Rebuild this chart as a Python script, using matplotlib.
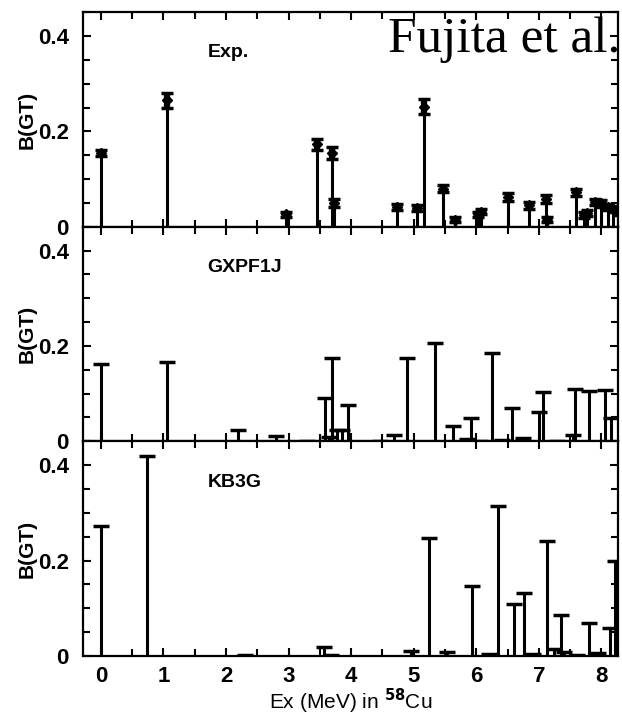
import matplotlib

matplotlib.use("Agg")
import matplotlib.pyplot as plt
from matplotlib.ticker import MultipleLocator

NARROW = ["Liberation Sans Narrow", "Liberation Sans", "DejaVu Sans"]
SERIF = ["Liberation Serif", "DejaVu Serif"]

# experimental B(GT) (Fujita et al.), with error bars
exp_ex = [0.0, 1.05, 2.96, 3.46, 3.70, 3.72, 4.73, 5.06, 5.17, 5.47, 5.66,
          6.03, 6.07, 6.50, 6.85, 7.11, 7.13, 7.59, 7.72, 7.77, 7.90, 8.00,
          8.10, 8.18, 8.26]
exp_bgt = [0.155, 0.265, 0.026, 0.173, 0.155, 0.050, 0.041, 0.040, 0.252,
           0.080, 0.015, 0.026, 0.032, 0.062, 0.045, 0.058, 0.015, 0.072,
           0.024, 0.029, 0.052, 0.049, 0.042, 0.038, 0.030]
exp_err = [0.006, 0.016, 0.006, 0.012, 0.012, 0.008, 0.006, 0.006, 0.016,
           0.008, 0.005, 0.006, 0.006, 0.008, 0.007, 0.008, 0.005, 0.008,
           0.006, 0.006, 0.007, 0.007, 0.006, 0.006, 0.006]

# GXPF1J shell-model
gx_ex = [0.0, 1.05, 2.19, 2.80, 3.30, 3.58, 3.64, 3.70, 3.77, 3.85, 3.95,
         4.46, 4.68, 4.90, 5.34, 5.63, 5.85, 5.92, 6.06, 6.25, 6.41, 6.57,
         6.75, 7.00, 7.07, 7.29, 7.55, 7.58, 7.81, 8.05, 8.16]
gx_bgt = [0.163, 0.167, 0.023, 0.011, 0.001, 0.091, 0.009, 0.175, 0.023,
          0.023, 0.077, 0.001, 0.013, 0.174, 0.207, 0.032, 0.004, 0.048,
          0.001, 0.185, 0.002, 0.069, 0.007, 0.062, 0.104, 0.001, 0.013,
          0.109, 0.105, 0.107, 0.049]

# KB3G shell-model
kb_ex = [0.0, 0.74, 2.30, 3.56, 3.68, 4.95, 5.25, 5.53, 5.93, 6.20, 6.35,
         6.61, 6.77, 6.91, 7.13, 7.24, 7.36, 7.40, 7.61, 7.80, 7.95, 8.13,
         8.21]
kb_bgt = [0.272, 0.420, 0.001, 0.019, 0.001, 0.011, 0.247, 0.008, 0.146,
          0.004, 0.314, 0.109, 0.131, 0.003, 0.242, 0.014, 0.086, 0.008,
          0.001, 0.068, 0.006, 0.058, 0.199]

panel_names = ["Exp.", "GXPF1J", "KB3G"]
x_ticks = [0, 1, 2, 3, 4, 5, 6, 7, 8]
y_ticks = [0, 0.2, 0.4]
y_labels = ["0", "0.2", "0.4"]

fig = plt.figure(figsize=(6.22, 7.18), dpi=100)
gs = fig.add_gridspec(3, 1, left=0.133, right=0.994, top=0.983,
                      bottom=0.0865, hspace=0)
axes = [fig.add_subplot(gs[i]) for i in range(3)]

for ax, name in zip(axes, panel_names):
    ax.set_xlim(-0.29, 8.27)
    ax.set_ylim(0, 0.45)
    ax.xaxis.set_major_locator(MultipleLocator(1))
    ax.xaxis.set_minor_locator(MultipleLocator(0.5))
    ax.set_yticks(y_ticks)
    ax.set_yticklabels(y_labels)
    ax.yaxis.set_minor_locator(MultipleLocator(0.05))
    ax.tick_params(which="both", direction="in", top=True, right=True,
                   width=1.5)
    ax.tick_params(which="major", length=6)
    ax.tick_params(which="minor", length=5)
    for s in ax.spines.values():
        s.set_linewidth(1.6)
    for lab in ax.get_yticklabels():
        lab.set_family(NARROW)
        lab.set_fontweight("bold")
        lab.set_fontsize(16)
    ax.tick_params(axis="y", pad=10)
    ax.set_ylabel("B(GT)", family=NARROW, fontweight="bold", fontsize=15,
                  labelpad=1)
    ax.text(0.233, 0.81, name, transform=ax.transAxes, family=NARROW,
            fontweight="bold", fontsize=14, ha="left", va="center")
    if ax is not axes[-1]:
        ax.tick_params(axis="x", labelbottom=False)

# experiment: stems with thick error bars
ax = axes[0]
ax.vlines(exp_ex, 0, exp_bgt, color="black", lw=2.2)
ax.errorbar(exp_ex, exp_bgt, yerr=exp_err, fmt="D", ms=5, color="black",
            elinewidth=4.5, capsize=4, capthick=2.5)
ax.axhline(0, color="black", lw=2)

# theory: T-shaped stems
for ax, ex, bgt in [(axes[1], gx_ex, gx_bgt), (axes[2], kb_ex, kb_bgt)]:
    ax.vlines(ex, 0, bgt, color="black", lw=2.2)
    ax.plot(ex, bgt, "_", color="black", ms=12, mew=2.5, linestyle="none")
    ax.axhline(0, color="black", lw=2)

axes[-1].set_xticks(x_ticks)
for lab in axes[-1].get_xticklabels():
    lab.set_family(NARROW)
    lab.set_fontweight("bold")
    lab.set_fontsize(16)
axes[-1].tick_params(axis="x", pad=7)
axes[-1].set_xlabel("Ex (MeV) in $^{\\mathbf{58}}$Cu", family=NARROW,
                    fontsize=15, labelpad=0)

fig.text(0.623, 0.927, "Fujita et al.", family=SERIF, fontsize=37,
         ha="left", va="baseline", zorder=0)

fig.savefig("out.png", dpi=100)
